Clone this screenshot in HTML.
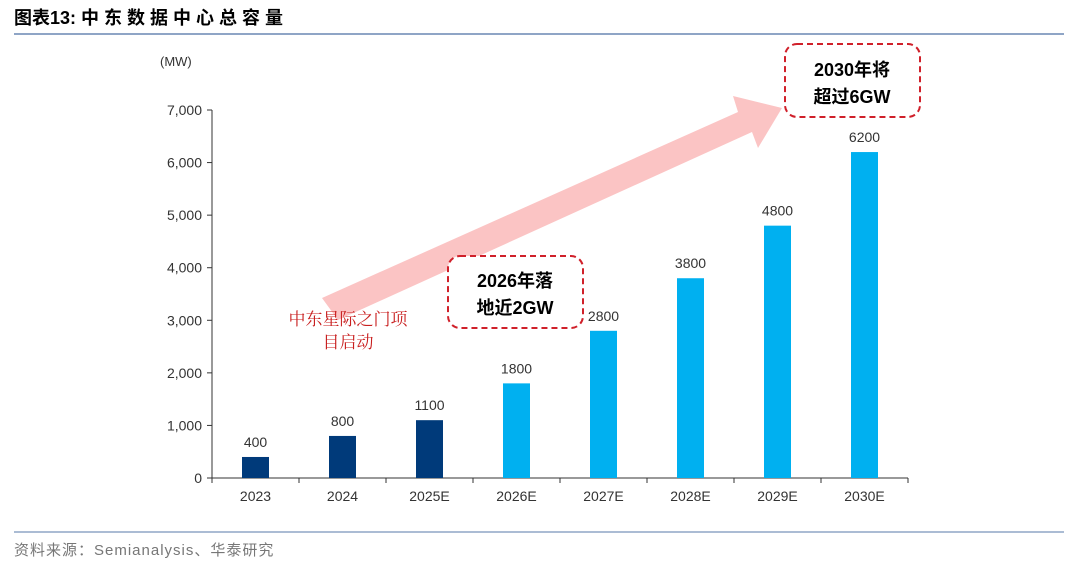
<!DOCTYPE html>
<html><head><meta charset="utf-8"><style>
body{margin:0;width:1080px;height:565px;background:#fff;font-family:"Liberation Sans","Noto Sans CJK SC",sans-serif;overflow:hidden}
</style></head><body>
<svg width="1080" height="565">
<text x="14" y="24" font-size="18" font-weight="bold" fill="#000" font-family="Liberation Sans,Noto Sans CJK SC,sans-serif">图表13:   中 东 数 据 中 心 总 容 量</text>
<line x1="14" y1="34" x2="1064" y2="34" stroke="#8fa5c6" stroke-width="2"/>
<line x1="14" y1="532" x2="1064" y2="532" stroke="#8fa5c6" stroke-width="1.5"/>
<text x="14" y="555" font-size="15" fill="#777" letter-spacing="1">资料来源：Semianalysis、华泰研究</text>
<text x="160" y="66" font-size="13" fill="#333">(MW)</text>
<polygon points="322,298 738,112 733,96 782,108 758,148 752,132 338,320" fill="#fbc4c4"/>
<g id="axes"></g><g id="bars"></g>
<rect x="448" y="256" width="135" height="72" rx="12" fill="#fff" stroke="#d0202a" stroke-width="2" stroke-dasharray="6,4"/>
<text x="515" y="287" font-size="18" font-weight="bold" text-anchor="middle">2026年落</text>
<text x="515" y="314" font-size="18" font-weight="bold" text-anchor="middle">地近2GW</text>
<rect x="785" y="44" width="135" height="73" rx="12" fill="#fff" stroke="#d0202a" stroke-width="2" stroke-dasharray="6,4"/>
<text x="852" y="76" font-size="18" font-weight="bold" text-anchor="middle">2030年将</text>
<text x="852" y="103" font-size="18" font-weight="bold" text-anchor="middle">超过6GW</text>
<text x="348" y="325" font-size="17" fill="#c81e1e" text-anchor="middle" font-family="Noto Serif CJK SC,serif">中东星际之门项</text>
<text x="348" y="348" font-size="17" fill="#c81e1e" text-anchor="middle" font-family="Noto Serif CJK SC,serif">目启动</text>
</svg>
<script>
const categories=["2023","2024","2025E","2026E","2027E","2028E","2029E","2030E"];
const values=[400,800,1100,1800,2800,3800,4800,6200];
const yTicks=[0,1000,2000,3000,4000,5000,6000,7000];
const yTickLabels=["0","1,000","2,000","3,000","4,000","5,000","6,000","7,000"];
const NS="http://www.w3.org/2000/svg";
const x0=212,x1=908,y0=478,yTop=110,yMax=7000;
const band=(x1-x0)/categories.length;
const xs=i=>x0+band*(i+0.5);
const ys=v=>y0-(v/yMax)*(y0-yTop);
function mk(t,a,p){const e=document.createElementNS(NS,t);for(const k in a)e.setAttribute(k,a[k]);p.appendChild(e);return e;}
const ax=document.getElementById('axes'),bg=document.getElementById('bars');
let l=mk('line',{x1:x0,y1:yTop,x2:x0,y2:y0,stroke:'#333'},ax);


l=mk('line',{x1:x0,y1:y0,x2:x1,y2:y0,stroke:'#333'},ax);


yTicks.forEach((v,i)=>{
 const y=ys(v);
 const t=mk('line',{x1:x0-5,y1:y,x2:x0,y2:y,stroke:'#333'},ax);
 
 
 const tx=mk('text',{x:x0-10,y:y+5,'font-size':14,'text-anchor':'end',fill:'#333'},ax);
 tx.textContent=yTickLabels[i];
 
 
});
for(let i=0;i<=categories.length;i++){
 const t=mk('line',{x1:x0+band*i,y1:y0,x2:x0+band*i,y2:y0+5,stroke:'#333'},ax);
 
 
}
categories.forEach((c,i)=>{
 const cx=xs(i),w=27;
 const r=mk('rect',{x:cx-w/2,y:ys(values[i]),width:w,height:y0-ys(values[i]),fill:i<3?'#003a7a':'#00b0f0'},bg);
 
 
 const vl=mk('text',{x:cx,y:ys(values[i])-10,'font-size':14,'text-anchor':'middle',fill:'#333'},bg);
 vl.textContent=values[i];
 
 
 const xl=mk('text',{x:cx,y:y0+23,'font-size':14,'text-anchor':'middle',fill:'#333'},bg);
 xl.textContent=c;
 
 
});
</script>
</body></html>
